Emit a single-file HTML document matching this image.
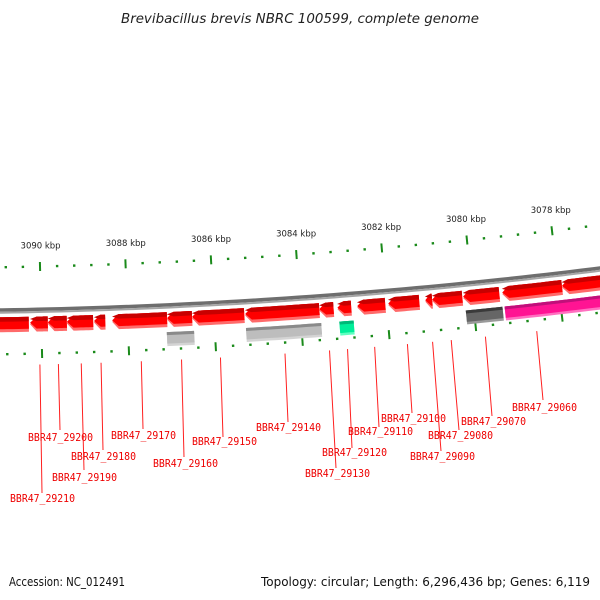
<!DOCTYPE html>
<html><head><meta charset="utf-8"><style>
html,body{margin:0;padding:0;background:#fff;width:600px;height:600px;overflow:hidden}
svg{display:block}
</style></head><body>
<svg id="map" width="600" height="600" viewBox="0 0 600 600" xmlns="http://www.w3.org/2000/svg">
<text x="300" y="23" text-anchor="middle" font-family="'DejaVu Sans','Liberation Sans',sans-serif" font-style="italic" font-size="13" fill="#222" textLength="358" lengthAdjust="spacingAndGlyphs">Brevibacillus brevis NBRC 100599, complete genome</text>
<g id="ticks"></g>
<g id="backbone"></g>
<g id="genes"></g>
<g id="labels"></g>
<text x="9" y="586" font-family="'DejaVu Sans','Liberation Sans',sans-serif" font-size="12" fill="#111" textLength="116" lengthAdjust="spacingAndGlyphs">Accession: NC_012491</text>
<text x="590" y="586" text-anchor="end" font-family="'DejaVu Sans','Liberation Sans',sans-serif" font-size="12" fill="#111" textLength="329" lengthAdjust="spacingAndGlyphs">Topology: circular; Length: 6,296,436 bp; Genes: 6,119</text>
</svg>
<script>
// ---- data ----
const tickLabelsKbp = [3090, 3088, 3086, 3084, 3082, 3080, 3078];
const geneStarts = [3091.42, 3090.26, 3089.85, 3089.41, 3088.78, 3088.36, 3087.09, 3086.51, 3085.28, 3083.56, 3083.14, 3082.68, 3081.96, 3081.10, 3080.94, 3080.22, 3079.31, 3077.92];
const geneEnds   = [3090.29, 3089.85, 3089.41, 3088.80, 3088.52, 3087.09, 3086.51, 3085.30, 3083.56, 3083.23, 3082.82, 3082.03, 3081.24, 3080.94, 3080.24, 3079.38, 3077.92, 3076.50];
const boxStarts = [3087.11, 3085.28, 3083.12, 3080.19, 3079.29];
const boxEnds   = [3086.48, 3083.54, 3082.79, 3079.34, 3076.50];
const boxTop    = ['#8a8a8a', '#8a8a8a', '#00b878', '#3a3a3a', '#c0107a'];
const boxMain   = ['#bdbdbd', '#bdbdbd', '#00ee99', '#666666', '#ff1493'];
const boxBottom = ['#d4d4d4', '#d4d4d4', '#60ffc0', '#9a9a9a', '#ff70c0'];
const labelNames = ['BBR47_29210','BBR47_29200','BBR47_29190','BBR47_29180','BBR47_29170','BBR47_29160','BBR47_29150','BBR47_29140','BBR47_29130','BBR47_29120','BBR47_29110','BBR47_29100','BBR47_29090','BBR47_29080','BBR47_29070','BBR47_29060'];
const labelGeneIdx = [1,2,3,4,5,6,7,8,9,10,11,12,13,14,15,16];
// label layout (pixel positions)
const labelLeft = [10,28,52,71,111,153,192,256,305,322,348,381,410,428,461,512];
const labelBase = [502,441,481,460,439,467,445,431,477,456,435,422,460,439,425,411];
const lineEndX = [42,60,84,103,143,184,223,288,336,352,379,412,441,459,492,543];
const lineEndY = [493,430,470,450,429,457,437,422,468,448,427,413,451,430,416,400];

// ---- geometry ----
const CX = -89, CY = -5267, TH0 = 0.02331, K = 0.00773;
const R_BACK = 5579, R_TICK_IN = 5535, R_TICK_OUT = 5622, R_LABEL = 5516;
function ang(kbp){ return TH0 + (3090 - kbp) * K; }
function P(kbp, r){ const t = ang(kbp); return [CX + r*Math.sin(t), CY + r*Math.cos(t)]; }
function arcPts(a, b, r, n){ const pts=[]; for(let i=0;i<=n;i++){ pts.push(P(a+(b-a)*i/n, r)); } return pts; }
const NS = 'http://www.w3.org/2000/svg';
function mk(tag, attrs, parent){ const e=document.createElementNS(NS,tag); for(const k in attrs) e.setAttribute(k, attrs[k]); parent.appendChild(e); return e; }
function ptsStr(pts){ return pts.map(p=>p[0].toFixed(2)+','+p[1].toFixed(2)).join(' '); }
function band(a, b, ra, rb, n){ return arcPts(a, b, ra, n).concat(arcPts(b, a, rb, n)); }

// backbone
const gb = document.getElementById('backbone');
const b1 = mk('polygon', {points: ptsStr(band(3092, 3075.5, R_BACK-3, R_BACK+0.5, 60)), fill: '#6e6e6e'}, gb);


const b2 = mk('polygon', {points: ptsStr(band(3092, 3075.5, R_BACK+0.5, R_BACK+2.5, 60)), fill: '#a5a5a5'}, gb);



// ticks
const gt = document.getElementById('ticks');
for (let i = 0; i <= 40; i++) {
  const kbp = 3092 - i*0.4;
  const major = Math.abs(Math.round(kbp) - kbp) < 0.01 && Math.round(kbp) % 2 === 0;
  [R_TICK_IN, R_TICK_OUT].forEach(function(r){
    const half = major ? 4.5 : 1.2;
    const a = P(kbp, r-half), b = P(kbp, r+half);
    const t = mk('line', {x1:a[0], y1:a[1], x2:b[0], y2:b[1], stroke:'#1a8a1a', 'stroke-width': major?2:2.4}, gt);
    
    
  });
}
tickLabelsKbp.forEach(function(kbp){
  const p = P(kbp, R_LABEL);
  const t = mk('text', {x:p[0]+1, y:p[1]+1, 'text-anchor':'middle', 'font-family':"'DejaVu Sans','Liberation Sans',sans-serif", 'font-size':'8.5', fill:'#222'}, gt);
  t.textContent = kbp + ' kbp';
  
  
});

// genes
const gg = document.getElementById('genes');
const r1 = R_BACK + 6, r2 = R_BACK + 21, HEAD = 0.15;
function arrow(hi, lo, ra, rb, hrA, hrB){
  const rm = (hrA + hrB)/2;
  const sh = hi - Math.min(HEAD, (hi-lo)*0.8);
  return [P(hi, rm), P(sh, Math.min(ra, hrA))].concat(arcPts(sh, lo, ra, 8)).concat(arcPts(lo, sh, rb, 8)).concat([P(sh, Math.max(rb, hrB))]);
}
for (let i = 0; i < geneStarts.length; i++) {
  const hi = geneStarts[i], lo = geneEnds[i];
  const g = mk('g', {}, gg);
  
  
  mk('polygon', {points: ptsStr(arrow(hi, lo, r1, r2, r1, r2)), fill:'#ff6a6a'}, g);
  mk('polygon', {points: ptsStr(arrow(hi, lo, r1, r2-3, r1, r2-3)), fill:'#ff0000'}, g);
  mk('polygon', {points: ptsStr(arrow(hi, lo, r1, r1+4.5, r1, r1+4.5)), fill:'#c80000'}, g);
}
const q1 = R_BACK + 26, q2 = R_BACK + 40;
for (let i = 0; i < boxStarts.length; i++) {
  const g = mk('g', {}, gg);
  
  
  mk('polygon', {points: ptsStr(band(boxStarts[i], boxEnds[i], q1, q2, 10)), fill: boxBottom[i]}, g);
  mk('polygon', {points: ptsStr(band(boxStarts[i], boxEnds[i], q1, q2-2.5, 10)), fill: boxMain[i]}, g);
  mk('polygon', {points: ptsStr(band(boxStarts[i], boxEnds[i], q1, q1+3, 10)), fill: boxTop[i]}, g);
}

// labels
const gl = document.getElementById('labels');
for (let i = 0; i < labelNames.length; i++) {
  const gi = labelGeneIdx[i];
  const mid = (geneStarts[gi] + geneEnds[gi]) / 2;
  const s = P(mid, R_BACK + 54);
  const l = mk('line', {x1:s[0], y1:s[1], x2:lineEndX[i], y2:lineEndY[i], stroke:'#ff2020', 'stroke-width':1}, gl);
  
  
  const t = mk('text', {x:labelLeft[i], y:labelBase[i], 'font-family':"'DejaVu Sans Mono','Liberation Mono',monospace", 'font-size':'10.5', fill:'#ee0000', textLength:'65', lengthAdjust:'spacingAndGlyphs'}, gl);
  t.textContent = labelNames[i];
  
  
}
</script>
</body></html>
